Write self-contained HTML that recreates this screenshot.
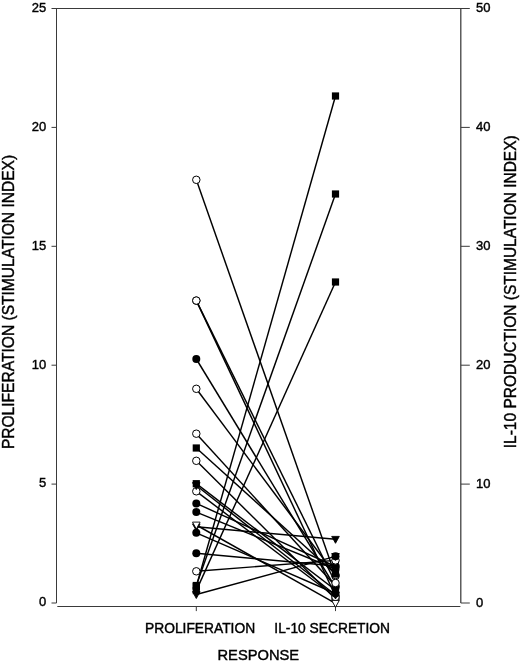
<!DOCTYPE html>
<html><head><meta charset="utf-8"><title>Proliferation vs IL-10 secretion</title>
<style>
html,body{margin:0;padding:0;background:#fff}
svg{display:block}
text{font-family:"Liberation Sans",Arial,Helvetica,sans-serif;fill:#000;stroke:#000;stroke-width:0.4px}
.tk{font-size:13px}
.cat{font-size:13.8px}
.ttl{font-size:15.45px}
.xt{font-size:14.7px}
.ax{stroke:#3a3a3a;stroke-width:1;fill:none}
.axr{stroke:#3a3a3a;stroke-width:1.25;fill:none}
.ln{stroke:#000;stroke-width:1.45;fill:none}
</style></head><body>
<svg width="520" height="663" viewBox="0 0 520 663">
<rect width="520" height="663" fill="#fff"/>

<path class="ax" d="M51.5 8.5H469.8"/>
<path class="ax" d="M56.5 8.5V603.0"/>
<path class="axr" d="M460.8 8.5V603.0"/>
<path class="ax" d="M57.3 606.5H460.40000000000003"/>
<path class="ax" d="M51.5 603.00H56.5"/>
<path class="ax" d="M460.8 603.00H469.8"/>
<text class="tk" x="46.3" y="606.30" text-anchor="end">0</text>
<text class="tk" x="476.1" y="606.90">0</text>
<path class="ax" d="M51.5 484.10H56.5"/>
<path class="ax" d="M460.8 484.10H469.8"/>
<text class="tk" x="46.3" y="487.40" text-anchor="end">5</text>
<text class="tk" x="476.1" y="488.00">10</text>
<path class="ax" d="M51.5 365.20H56.5"/>
<path class="ax" d="M460.8 365.20H469.8"/>
<text class="tk" x="46.3" y="368.50" text-anchor="end">10</text>
<text class="tk" x="476.1" y="369.10">20</text>
<path class="ax" d="M51.5 246.30H56.5"/>
<path class="ax" d="M460.8 246.30H469.8"/>
<text class="tk" x="46.3" y="249.60" text-anchor="end">15</text>
<text class="tk" x="476.1" y="250.20">30</text>
<path class="ax" d="M51.5 127.40H56.5"/>
<path class="ax" d="M460.8 127.40H469.8"/>
<text class="tk" x="46.3" y="130.70" text-anchor="end">20</text>
<text class="tk" x="476.1" y="131.30">40</text>
<text class="tk" x="46.3" y="11.80" text-anchor="end">25</text>
<text class="tk" x="476.1" y="12.40">50</text>
<path class="ax" d="M196.3 606.5V611.1"/>
<path class="ax" d="M335.5 606.5V611.1"/>
<text class="cat" x="145" y="633">PROLIFERATION</text>
<text class="cat" x="274.3" y="633">IL-10 SECRETION</text>
<text class="xt" x="217.5" y="659.6">RESPONSE</text>
<text class="ttl" style="font-size:15.57px" transform="translate(14 449.1) rotate(-90) scale(1 1.03)">PROLIFERATION (STIMULATION INDEX)</text>
<text class="ttl" style="font-size:15.5px" transform="translate(516.0 448.2) rotate(-90) scale(1 1.03)">IL-10 PRODUCTION (STIMULATION INDEX)</text>
<path class="ln" d="M196.3 179.8L335.5 576"/>
<path class="ln" d="M196.3 300.6L335.5 596"/>
<path class="ln" d="M196.3 433.7L335.5 586"/>
<path class="ln" d="M196.3 460.8L335.5 599"/>
<path class="ln" d="M196.3 491.3L335.5 597"/>
<path class="ln" d="M196.3 388.8L335.5 575"/>
<path class="ln" d="M196.3 359.0L335.5 587.5"/>
<path class="ln" d="M196.3 448.0L335.5 574"/>
<path class="ln" d="M196.3 483.7L335.5 590"/>
<path class="ln" d="M196.3 485.5L335.5 595"/>
<path class="ln" d="M196.3 503.4L335.5 566.5"/>
<path class="ln" d="M196.3 512.1L335.5 569"/>
<path class="ln" d="M196.3 526.8L335.5 539.3"/>
<path class="ln" d="M196.3 532.8L335.5 593.5"/>
<path class="ln" d="M196.3 553.2L335.5 566"/>
<path class="ln" d="M196.3 300.6L335.5 583"/>
<path class="ln" d="M196.3 571.3L335.5 560.4"/>
<path class="ln" d="M196.3 586.5L335.5 96"/>
<path class="ln" d="M196.3 585.5L335.5 194"/>
<path class="ln" d="M196.3 590.6L335.5 282"/>
<path class="ln" d="M196.3 594.5L335.5 556.4"/>
<path class="ln" d="M196.3 525.0L335.5 603.3"/>
<circle cx="196.3" cy="179.8" r="3.75" fill="#fff" stroke="#000" stroke-width="1"/>
<circle cx="335.5" cy="576" r="3.75" fill="#fff" stroke="#000" stroke-width="1"/>
<circle cx="196.3" cy="300.6" r="3.75" fill="#fff" stroke="#000" stroke-width="1"/>
<circle cx="335.5" cy="596" r="3.75" fill="#fff" stroke="#000" stroke-width="1"/>
<circle cx="196.3" cy="433.7" r="3.75" fill="#fff" stroke="#000" stroke-width="1"/>
<circle cx="335.5" cy="586" r="3.75" fill="#fff" stroke="#000" stroke-width="1"/>
<circle cx="196.3" cy="460.8" r="3.75" fill="#fff" stroke="#000" stroke-width="1"/>
<circle cx="335.5" cy="599" r="3.75" fill="#fff" stroke="#000" stroke-width="1"/>
<circle cx="196.3" cy="491.3" r="3.75" fill="#fff" stroke="#000" stroke-width="1"/>
<circle cx="335.5" cy="597" r="3.75" fill="#fff" stroke="#000" stroke-width="1"/>
<circle cx="196.3" cy="388.8" r="3.75" fill="#fff" stroke="#000" stroke-width="1"/>
<circle cx="335.5" cy="575" r="3.75" fill="#fff" stroke="#000" stroke-width="1"/>
<circle cx="196.3" cy="359.0" r="4" fill="#000"/>
<circle cx="335.5" cy="587.5" r="4" fill="#000"/>
<rect x="192.70000000000002" y="444.4" width="7.2" height="7.2" fill="#000"/>
<rect x="331.9" y="570.4" width="7.2" height="7.2" fill="#000"/>
<rect x="192.70000000000002" y="480.09999999999997" width="7.2" height="7.2" fill="#000"/>
<rect x="331.9" y="586.4" width="7.2" height="7.2" fill="#000"/>
<path d="M192.5 482.6L200.10000000000002 482.6L196.3 489.5Z" fill="#000" stroke="#000" stroke-width="0.9" stroke-linejoin="miter"/>
<path d="M331.7 592.1L339.3 592.1L335.5 599.0Z" fill="#000" stroke="#000" stroke-width="0.9" stroke-linejoin="miter"/>
<circle cx="196.3" cy="503.4" r="4" fill="#000"/>
<circle cx="335.5" cy="566.5" r="4" fill="#000"/>
<circle cx="196.3" cy="512.1" r="4" fill="#000"/>
<circle cx="335.5" cy="569" r="4" fill="#000"/>
<path d="M192.5 523.9L200.10000000000002 523.9L196.3 530.8Z" fill="#000" stroke="#000" stroke-width="0.9" stroke-linejoin="miter"/>
<path d="M331.7 536.4L339.3 536.4L335.5 543.3Z" fill="#000" stroke="#000" stroke-width="0.9" stroke-linejoin="miter"/>
<circle cx="196.3" cy="532.8" r="4" fill="#000"/>
<circle cx="335.5" cy="593.5" r="4" fill="#000"/>
<circle cx="196.3" cy="553.2" r="4" fill="#000"/>
<circle cx="335.5" cy="566" r="4" fill="#000"/>
<circle cx="196.3" cy="300.6" r="3.75" fill="#fff" stroke="#000" stroke-width="1"/>
<circle cx="335.5" cy="583" r="3.75" fill="#fff" stroke="#000" stroke-width="1"/>
<circle cx="196.3" cy="571.3" r="3.75" fill="#fff" stroke="#000" stroke-width="1"/>
<circle cx="335.5" cy="560.4" r="3.75" fill="#fff" stroke="#000" stroke-width="1"/>
<rect x="192.70000000000002" y="582.9" width="7.2" height="7.2" fill="#000"/>
<rect x="331.9" y="92.4" width="7.2" height="7.2" fill="#000"/>
<rect x="192.70000000000002" y="581.9" width="7.2" height="7.2" fill="#000"/>
<rect x="331.9" y="190.4" width="7.2" height="7.2" fill="#000"/>
<rect x="192.70000000000002" y="587.0" width="7.2" height="7.2" fill="#000"/>
<rect x="331.9" y="278.4" width="7.2" height="7.2" fill="#000"/>
<circle cx="335.5" cy="556.2" r="4" fill="#000"/>
<path d="M192.5 591.6L200.10000000000002 591.6L196.3 598.5Z" fill="#000" stroke="#000" stroke-width="0.9" stroke-linejoin="miter"/>
<path d="M331.7 553.5L339.3 553.5L335.5 560.4Z" fill="#000" stroke="#000" stroke-width="0.9" stroke-linejoin="miter"/>
<path d="M192.5 522.1L200.10000000000002 522.1L196.3 529.0Z" fill="#fff" stroke="#000" stroke-width="0.9" stroke-linejoin="miter"/>
<path d="M331.7 600.4L339.3 600.4L335.5 607.3Z" fill="#fff" stroke="#000" stroke-width="0.9" stroke-linejoin="miter"/>
</svg></body></html>
